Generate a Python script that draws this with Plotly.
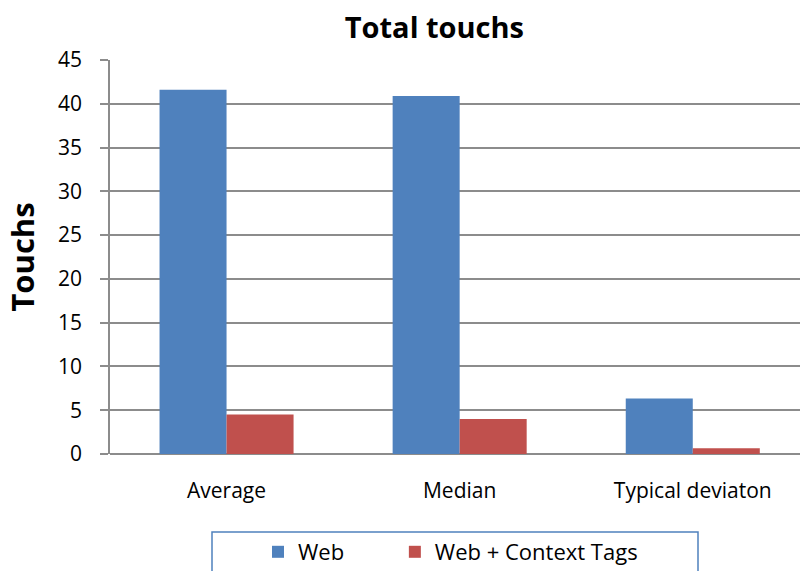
import plotly.graph_objects as go

categories = ["Average", "Median", "Typical deviaton"]
web = [41.6, 40.9, 6.35]
web_context = [4.5, 4.0, 0.65]
y_ticks = [0, 5, 10, 15, 20, 25, 30, 35, 40, 45]
series_names = ["Web", "Web + Context Tags"]

FONT = "Open Sans, Lato, sans-serif"
GRID = "#8c8c8c"

# plot area spans pixel rows 60..454 and columns 110..800
PLOT_L, PLOT_R, PLOT_T, PLOT_B = 110, 800, 60, 454
PW, PH = PLOT_R - PLOT_L, PLOT_B - PLOT_T


def px(x):
    return (x - PLOT_L) / PW


def py(y):
    return (PLOT_B - y) / PH


fig = go.Figure()
fig.add_trace(go.Bar(name=series_names[0] + "&nbsp;" * 8, x=categories, y=web,
                     marker=dict(color="#4F81BD", line=dict(width=0))))
fig.add_trace(go.Bar(name=series_names[1], x=categories, y=web_context,
                     marker=dict(color="#C0504D", line=dict(width=0))))

fig.update_layout(
    width=800, height=571,
    margin=dict(l=PLOT_L, r=0, t=PLOT_T, b=571 - PLOT_B, autoexpand=False),
    paper_bgcolor="white", plot_bgcolor="white",
    barmode="group", bargap=0.425, bargroupgap=0,
    font=dict(family=FONT, size=21, color="#000000"),
    title=dict(text="<b>Total touchs</b>", x=0.543, xanchor="center", y=0.952, yanchor="middle",
               font=dict(family=FONT, size=29, color="#000000")),
    legend=dict(orientation="h", x=px(258), xanchor="left", y=py(531), yanchor="top",
                borderwidth=0, bgcolor="rgba(0,0,0,0)",
                font=dict(family=FONT, size=22, color="#000000"),
                itemwidth=30, tracegroupgap=0),
    showlegend=True,
    shapes=[dict(type="rect", xref="paper", yref="paper",
                 x0=px(212), x1=px(698), y0=py(532), y1=py(600),
                 line=dict(color="#4F81BD", width=1.5), fillcolor="rgba(0,0,0,0)", layer="below")],
)

fig.update_xaxes(
    range=[-0.5, 2.46], showgrid=False, showline=False, ticks="", automargin=False,
    tickfont=dict(family=FONT, size=21), ticklabelstandoff=22,
)
fig.update_yaxes(
    range=[0, 45], tickvals=y_ticks, showgrid=True, gridcolor=GRID, gridwidth=1.5,
    showline=True, linecolor=GRID, linewidth=1.5, automargin=False,
    ticks="outside", ticklen=8, tickcolor=GRID, tickwidth=1.5,
    zeroline=True, zerolinecolor=GRID, zerolinewidth=2,
    tickfont=dict(family=FONT, size=21), ticklabelstandoff=14,
    title=dict(text="<b>Touchs</b>", font=dict(family=FONT, size=31), standoff=14),
)

fig.write_html("out.html")
